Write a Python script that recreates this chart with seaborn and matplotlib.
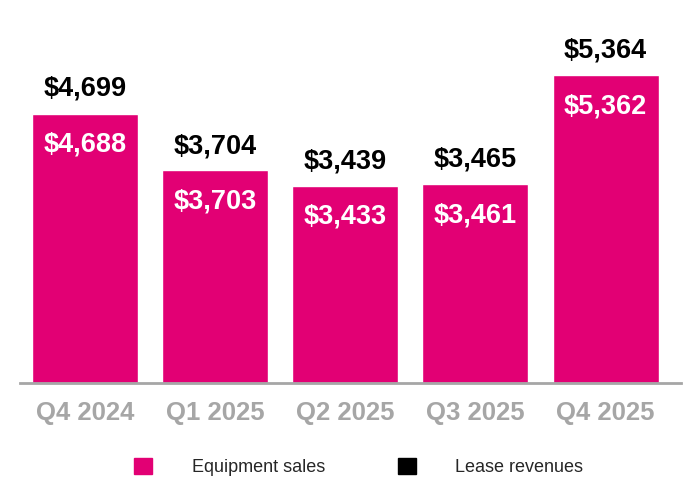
import numpy as np
import pandas as pd
from matplotlib import pyplot as plt
import matplotlib.patches as patches
import seaborn as sns

# Values in $ millions
quarters = ['Q4 2024', 'Q1 2025', 'Q2 2025', 'Q3 2025', 'Q4 2025']
equipment_sales = [4688, 3703, 3433, 3461, 5362]
totals = [4699, 3704, 3439, 3465, 5364]

magenta = '#E20074'
gray = '#A6A6A6'

sns.set_style('white')
plt.rcParams['font.family'] = ['Liberation Sans', 'DejaVu Sans']

df = pd.DataFrame({'Quarter': quarters, 'Equipment': equipment_sales, 'Total': totals})

fig = plt.figure(figsize=(6.9, 5), dpi=100)
ax = fig.add_axes([20 / 690, 1 - 383 / 500, 661 / 690, 370 / 500])

# Stack: total (black lease on top) drawn first, equipment over it
sns.barplot(data=df, x='Quarter', y='Total', color='black', width=0.815,
            saturation=1, ax=ax)
sns.barplot(data=df, x='Quarter', y='Equipment', color=magenta, width=0.815,
            saturation=1, ax=ax)

ax.set_ylim(0, 370 / 0.0574)
ax.set_xlim(-0.5, 4.58)

for i in range(len(quarters)):
    ax.annotate(f'${totals[i]:,}', (i, totals[i]), xytext=(0, 17.5),
                textcoords='offset points', ha='center', va='center',
                fontsize=19.5, fontweight='bold', color='black')
    ax.annotate(f'${equipment_sales[i]:,}', (i, totals[i]), xytext=(0, -22.5),
                textcoords='offset points', ha='center', va='center',
                fontsize=19.5, fontweight='bold', color='white')

sns.despine(ax=ax, left=True, top=True, right=True)
ax.spines['bottom'].set_color(gray)
ax.spines['bottom'].set_linewidth(2)
ax.set_yticks([])
ax.set_xlabel('')
ax.set_ylabel('')
ax.tick_params(axis='x', length=0, pad=13, labelsize=18.5, labelcolor=gray)
for lbl in ax.get_xticklabels():
    lbl.set_fontweight('bold')

handles = [patches.Patch(color=magenta, label='Equipment sales'),
           patches.Patch(color='black', label='Lease revenues')]
fig.legend(handles=handles, loc='center', bbox_to_anchor=(0.52, 0.066), ncol=2,
           frameon=False, fontsize=13, handlelength=1.0, handleheight=1.0,
           handletextpad=2.2, columnspacing=4.0)

fig.savefig('out.png', dpi=100)
